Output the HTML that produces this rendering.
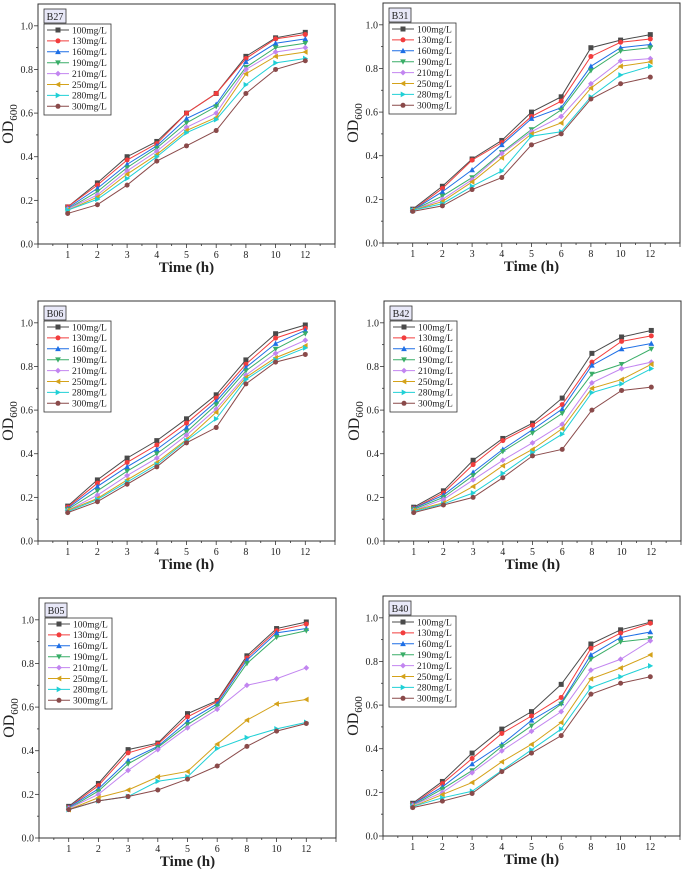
<!DOCTYPE html>
<html><head><meta charset="utf-8"><style>
html,body{margin:0;padding:0;background:#fff;}
svg{display:block;font-family:"Liberation Serif",serif;}
</style></head>
<body>
<svg id="fig" width="685" height="871" viewBox="0 0 685 871" xmlns="http://www.w3.org/2000/svg"></svg>
<script>
const categories = ["1","2","3","4","5","6","8","10","12"];
const seriesNames = ["100mg/L","130mg/L","160mg/L","190mg/L","210mg/L","250mg/L","280mg/L","300mg/L"];
const yTicks = [0.0,0.2,0.4,0.6,0.8,1.0];
const panelTitles = ["B27","B31","B06","B42","B05","B40"];

const b27 = [
[0.17,0.28,0.40,0.47,0.60,0.69,0.86,0.945,0.97],
[0.17,0.27,0.385,0.46,0.60,0.69,0.85,0.94,0.96],
[0.165,0.255,0.365,0.45,0.575,0.64,0.835,0.92,0.94],
[0.16,0.24,0.35,0.44,0.555,0.63,0.81,0.90,0.92],
[0.16,0.225,0.335,0.425,0.535,0.60,0.80,0.88,0.90],
[0.155,0.215,0.32,0.41,0.52,0.58,0.78,0.86,0.88],
[0.155,0.205,0.30,0.40,0.51,0.57,0.73,0.83,0.85],
[0.14,0.18,0.27,0.38,0.45,0.52,0.69,0.80,0.84]];
const b31 = [
[0.155,0.26,0.385,0.47,0.60,0.67,0.895,0.93,0.955],
[0.15,0.25,0.38,0.46,0.58,0.65,0.855,0.92,0.935],
[0.15,0.235,0.335,0.45,0.57,0.62,0.81,0.895,0.91],
[0.15,0.215,0.30,0.415,0.52,0.61,0.79,0.88,0.895],
[0.15,0.20,0.29,0.41,0.51,0.58,0.73,0.835,0.845],
[0.15,0.19,0.28,0.39,0.50,0.55,0.71,0.81,0.83],
[0.15,0.18,0.26,0.33,0.49,0.51,0.67,0.77,0.81],
[0.145,0.17,0.245,0.30,0.45,0.50,0.66,0.73,0.76]];
const b06 = [
[0.16,0.28,0.38,0.46,0.56,0.67,0.83,0.95,0.99],
[0.155,0.265,0.36,0.44,0.54,0.655,0.81,0.93,0.975],
[0.15,0.25,0.34,0.42,0.52,0.64,0.795,0.905,0.965],
[0.145,0.23,0.32,0.40,0.50,0.625,0.78,0.88,0.95],
[0.14,0.21,0.30,0.38,0.485,0.605,0.76,0.86,0.92],
[0.14,0.195,0.28,0.36,0.465,0.59,0.75,0.84,0.895],
[0.135,0.19,0.27,0.35,0.46,0.56,0.74,0.83,0.885],
[0.13,0.18,0.26,0.34,0.45,0.52,0.72,0.82,0.855]];
const b42 = [
[0.155,0.23,0.37,0.47,0.54,0.655,0.86,0.935,0.965],
[0.15,0.22,0.35,0.46,0.53,0.625,0.82,0.915,0.94],
[0.15,0.21,0.315,0.42,0.51,0.605,0.805,0.88,0.905],
[0.145,0.20,0.30,0.41,0.495,0.585,0.765,0.81,0.88],
[0.14,0.19,0.28,0.37,0.45,0.535,0.725,0.79,0.82],
[0.14,0.175,0.25,0.345,0.42,0.515,0.70,0.74,0.81],
[0.135,0.17,0.22,0.31,0.405,0.49,0.68,0.72,0.79],
[0.13,0.165,0.20,0.29,0.39,0.42,0.60,0.69,0.705]];
const b05 = [
[0.145,0.25,0.405,0.435,0.57,0.63,0.835,0.96,0.99],
[0.14,0.24,0.39,0.43,0.555,0.625,0.825,0.95,0.98],
[0.14,0.225,0.355,0.42,0.535,0.615,0.815,0.94,0.96],
[0.135,0.215,0.34,0.415,0.52,0.605,0.80,0.92,0.95],
[0.135,0.20,0.31,0.405,0.505,0.59,0.70,0.73,0.78],
[0.13,0.185,0.22,0.28,0.305,0.43,0.54,0.615,0.635],
[0.13,0.17,0.19,0.26,0.28,0.41,0.46,0.50,0.53],
[0.13,0.17,0.19,0.22,0.27,0.33,0.42,0.49,0.525]];
const b40 = [
[0.15,0.25,0.38,0.49,0.57,0.695,0.88,0.945,0.98],
[0.145,0.24,0.355,0.47,0.55,0.635,0.86,0.93,0.975],
[0.145,0.225,0.33,0.42,0.53,0.61,0.83,0.91,0.935],
[0.14,0.215,0.30,0.41,0.505,0.605,0.81,0.89,0.905],
[0.14,0.20,0.29,0.39,0.48,0.57,0.76,0.81,0.895],
[0.135,0.19,0.245,0.34,0.42,0.52,0.72,0.77,0.83],
[0.135,0.175,0.205,0.30,0.395,0.49,0.68,0.73,0.78],
[0.13,0.16,0.195,0.295,0.38,0.46,0.65,0.70,0.73]];

const panelData = [b27,b31,b06,b42,b05,b40];
const colors = ["#4a4a4a","#f23d3d","#1e6fe6","#3aae68","#c285f0","#d4a21a","#20d0d6","#8a4a4a"];
const markers = ["square","circle","up","down","diamond","left","right","circle"];
const origins = [[38,4],[383,3],[38,301],[384,301],[39,598],[383,596]];
const W = 297, H = 240, YMAX = 1.1;
const NS = "http://www.w3.org/2000/svg";
const svg = document.getElementById("fig");

function mk(tag, attrs, parent){
  const e = document.createElementNS(NS, tag);
  for (const k in attrs) e.setAttribute(k, attrs[k]);
  (parent||svg).appendChild(e);
  return e;
}
function marker(g, type, x, y, c, r){
  let e;
  if (type==="square") e = mk("rect",{x:x-r,y:y-r,width:2*r,height:2*r,fill:c},g);
  else if (type==="circle") e = mk("circle",{cx:x,cy:y,r:r,fill:c},g);
  else {
    let p;
    const s=r*1.15;
    if (type==="up") p=[[x,y-s],[x+s,y+s*0.8],[x-s,y+s*0.8]];
    if (type==="down") p=[[x,y+s],[x+s,y-s*0.8],[x-s,y-s*0.8]];
    if (type==="left") p=[[x-s,y],[x+s*0.8,y-s],[x+s*0.8,y+s]];
    if (type==="right") p=[[x+s,y],[x-s*0.8,y-s],[x-s*0.8,y+s]];
    if (type==="diamond") p=[[x,y-s],[x+s,y],[x,y+s],[x-s,y]];
    e = mk("polygon",{points:p.map(q=>q.join(",")).join(" "),fill:c},g);
  }
  return e;
}

panelData.forEach((data, pi) => {
  const [ox, oy] = origins[pi];
  const xs = i => ox + (i + 1) * W / 10;
  const ys = v => oy + H - v / YMAX * H;
  const g = mk("g", {});
  
  

  for (let k = 0; k <= 10; k++) {
    const v = k * 0.1, y = ys(v);
    const len = k % 2 === 0 ? 4 : 2;
    mk("line", {x1:ox-len, x2:ox, y1:y, y2:y, stroke:"#333", "stroke-width":0.8}, g);
  }
  yTicks.forEach(v => {
    const t = mk("text", {x:ox-5, y:ys(v)+3.5, "font-size":10, "text-anchor":"end", fill:"#222"}, g);
    t.textContent = v.toFixed(1);
    
    
  });
  for (let k = 0; k <= 20; k++) {
    const x = ox + k * W / 20;
    const len = k % 2 === 0 ? 4 : 2;
    mk("line", {x1:x, x2:x, y1:oy+H, y2:oy+H+len, stroke:"#333", "stroke-width":0.8}, g);
  }
  categories.forEach((c, i) => {
    const t = mk("text", {x:xs(i), y:oy+H+14, "font-size":10, "text-anchor":"middle", fill:"#222"}, g);
    t.textContent = c;
    
    
  });
  const xt = mk("text", {x:ox+W/2, y:oy+H+28, "font-size":15, "font-weight":"bold", "text-anchor":"middle", fill:"#222"}, g);
  xt.textContent = "Time (h)";
  
  
  const yt = mk("text", {transform:`translate(${ox-25},${oy+H/2}) rotate(-90)`, "font-size":16, "text-anchor":"middle", fill:"#222"}, g);
  yt.innerHTML = 'OD<tspan font-size="11" dy="4">600</tspan>';
  
  

  data.forEach((vals, si) => {
    const sg = mk("g", {}, g);
    
    
    const pts = vals.map((v, i) => xs(i) + "," + ys(v)).join(" ");
    mk("polyline", {points:pts, fill:"none", stroke:colors[si], "stroke-width":1}, sg);
    vals.forEach((v, i) => {
      const m = marker(sg, markers[si], xs(i), ys(v), colors[si], 2.5);
      
      
    });
  });

  const fr = mk("rect", {x:ox, y:oy, width:W, height:H, fill:"none", stroke:"#333", "stroke-width":1}, g);
  
  

  const tb = mk("rect", {x:ox+6, y:oy+5, width:22, height:14, fill:"#e8e8f8", stroke:"#333", "stroke-width":0.8}, g);
  
  
  const tt = mk("text", {x:ox+17, y:oy+16, "font-size":10, "text-anchor":"middle", fill:"#222"}, g);
  tt.textContent = panelTitles[pi];
  
  

  const lg = mk("g", {}, g);
  
  
  mk("rect", {x:ox+6, y:oy+20, width:67, height:91, fill:"#fff", stroke:"#333", "stroke-width":0.8}, lg);
  seriesNames.forEach((n, si) => {
    const y = oy + 26 + si * 10.9;
    const le = mk("g", {}, lg);
    
    
    mk("line", {x1:ox+9, x2:ox+31, y1:y, y2:y, stroke:colors[si], "stroke-width":1}, le);
    marker(le, markers[si], ox+20, y, colors[si], 2.5);
    const t = mk("text", {x:ox+34, y:y+3.3, "font-size":9.5, fill:"#222"}, le);
    t.textContent = n;
  });
});
</script>
</body></html>
